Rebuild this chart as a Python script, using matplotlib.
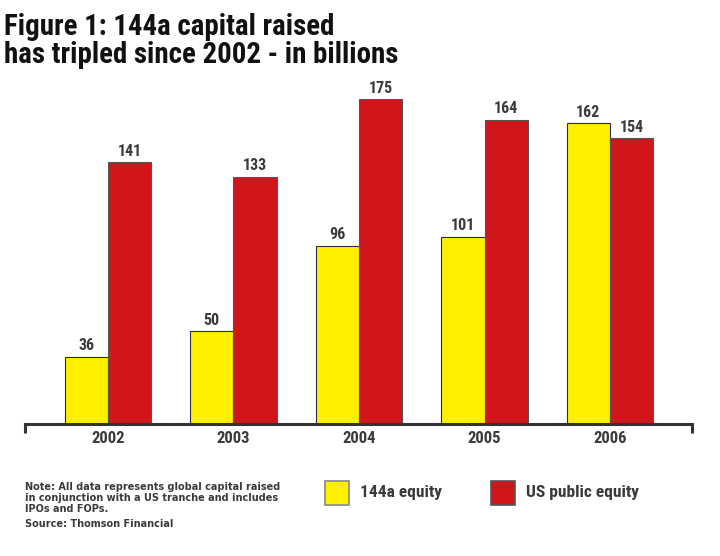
import matplotlib
matplotlib.use("Agg")
import matplotlib.pyplot as plt
import numpy as np
from matplotlib.patches import Rectangle
from matplotlib import font_manager as fm

years = ["2002", "2003", "2004", "2005", "2006"]
equity_144a = [36, 50, 96, 101, 162]
us_public = [141, 133, 175, 164, 154]
series_names = ["144a equity", "US public equity"]

YELLOW = "#FFF000"
RED = "#D0161B"
TXT = "#3a3a3a"

names = {f.name for f in fm.fontManager.ttflist}
cond = [n for n in ("Liberation Sans Narrow", "DejaVu Sans Condensed", "Roboto Condensed") if n in names]
FAM = cond + ["DejaVu Sans"]
stretch = "condensed"

fig = plt.figure(figsize=(7.2, 5.56), dpi=100)
ax = fig.add_axes([25/720, 1-424/556, (692-25)/720, (424-90)/556])

x = np.arange(len(years))
w = 0.345
b1 = ax.bar(x - w/2, equity_144a, w, color=YELLOW, edgecolor="#2a2a50", linewidth=0.8)
b2 = ax.bar(x + w/2, us_public, w, color=RED, edgecolor="#555555", linewidth=0.8)

for rects, vals in ((b1, equity_144a), (b2, us_public)):
    for r, v in zip(rects, vals):
        ax.text(r.get_x() + r.get_width()/2, v + 2, str(v), ha="center", va="bottom",
                fontsize=11.5, fontweight="bold", color=TXT, family=FAM, fontstretch=stretch)

ax.set_xlim(-0.661, 4.653)
ax.set_ylim(0, 180)
for s in ["top", "right", "left"]:
    ax.spines[s].set_visible(False)
ax.spines["bottom"].set_linewidth(2.2)
ax.spines["bottom"].set_color("#333333")
ax.set_yticks([])
ax.set_xticks(x)
ax.set_xticklabels(years, fontsize=12, fontweight="bold", color=TXT, family=FAM, fontstretch=stretch)
ax.tick_params(axis="x", length=0, pad=5)
for xe in (-0.661, 4.653):
    ax.plot([xe, xe], [0, -5], color="#333333", lw=2.2, clip_on=False, solid_capstyle="butt")

title_kw = dict(fontsize=20, fontweight="heavy", color="#111111", family=FAM,
                fontstretch=stretch, va="baseline")
t1 = fig.text(4/720, 1-35/556, "Figure 1: 144a capital raised", **title_kw)
t2 = fig.text(4/720, 1-63/556, "has tripled since 2002 - in billions", **title_kw)

# fit title to reference width
fig.canvas.draw()
target = 393
bb = t2.get_window_extent()
scale = target / bb.width
for t in (t1, t2):
    t.set_fontsize(20 * scale)

NOTEFAM = ["DejaVu Sans"]
note = ("Note: All data represents global capital raised\n"
        "in conjunction with a US tranche and includes\n"
        "IPOs and FOPs.")
fig.text(25/720, 1-482/556, note, fontsize=7, fontweight="bold", color=TXT, family=NOTEFAM,
         va="top", linespacing=1.15)
fig.text(25/720, 1-519/556, "Source: Thomson Financial", fontsize=7, fontweight="bold",
         color=TXT, family=NOTEFAM, va="top")

for (lx, col, ec, name) in ((325, YELLOW, "#888888", series_names[0]),
                            (491, RED, "#555555", series_names[1])):
    fig.patches.append(Rectangle((lx/720, 1-505/556), 24/720, 24/556, transform=fig.transFigure,
                                 facecolor=col, edgecolor=ec, linewidth=1.2))
    fig.text((lx+35)/720, 1-493/556, name, fontsize=12.5, fontweight="bold", color=TXT,
             family=FAM, fontstretch=stretch, va="center")

fig.savefig("out.png", dpi=100)
